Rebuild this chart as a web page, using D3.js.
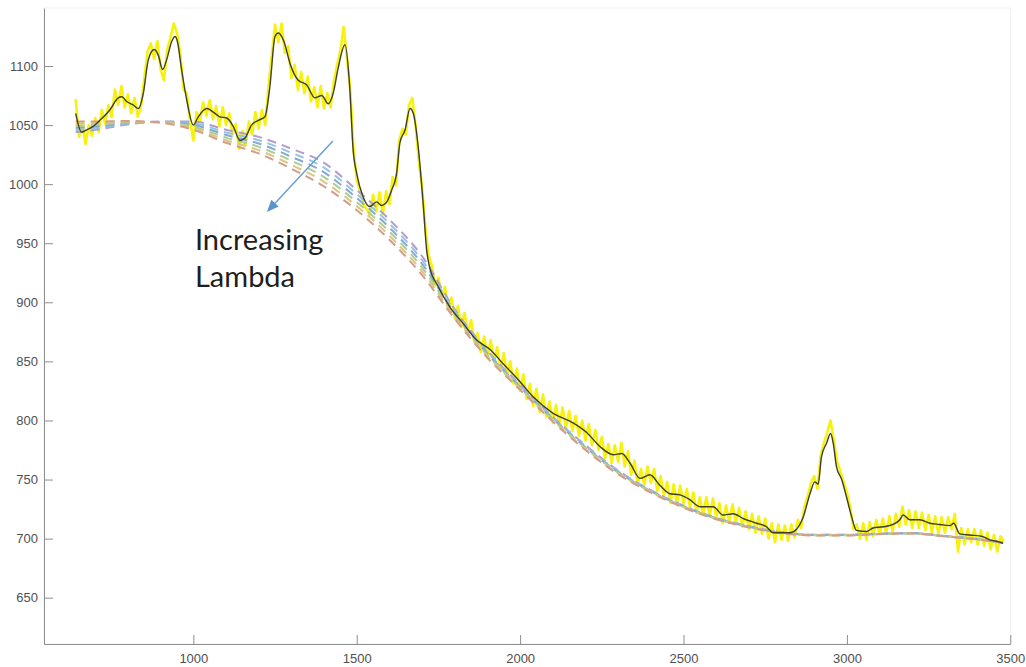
<!DOCTYPE html>
<html>
<head>
<meta charset="utf-8">
<script src="https://cdn.jsdelivr.net/npm/d3@7"></script>
<style>
  html, body { margin: 0; padding: 0; background: #fff; }
  svg { display: block; }
  .axis text { font-family: "Liberation Sans", Arial, sans-serif; font-size: 13px; fill: #4f4f4f; }
  .axis path, .axis line { stroke: #8f8f8f; stroke-width: 1; }
</style>
</head>
<body>
<svg id="chart" width="1026" height="667"></svg>
<script>
// Raw spectrum, sampled every 10 units starting at 640
const rawStart = 640;
const rawStep = 10;
const rawY = [
  1072,1040,1052,1034,1050,1041,1056,1044,1063,1051,
  1067,1057,1080,1067,1083,1065,1076,1060,1073,1057,
  1066,1090,1112,1119,1106,1121,1097,1088,1114,1124,
  1136,1128,1111,1080,1077,1054,1037,1061,1053,1069,
  1058,1071,1055,1066,1049,1065,1050,1060,1042,1051,
  1030,1045,1033,1053,1042,1061,1047,1063,1050,1083,
  1109,1135,1120,1136,1111,1117,1090,1101,1080,1095,
  1077,1091,1070,1082,1065,1083,1064,1077,1065,1087,
  1101,1113,1133,1107,1081,1031,1003,995,983,979,
  974,991,977,993,975,994,983,1006,999,1037,
  1047,1042,1067,1073,1050,1019,998,963,940,931,
  914,921,904,913,895,904,886,897,879,891,
  875,885,866,874,858,871,853,868,850,862,
  842,857,838,850,831,844,825,839,818,831,
  812,827,807,822,803,816,798,813,796,811,
  793,808,791,804,787,800,783,797,779,792,
  775,786,768,780,764,779,765,781,761,774,
  754,766,746,759,745,761,747,759,740,753,
  736,748,730,746,729,745,729,742,726,739,
  722,735,720,735,719,734,718,730,713,728,
  714,729,713,726,710,723,708,721,705,719,
  704,717,700,713,697,712,699,711,698,712,
  701,716,709,727,736,747,753,742,771,781,
  790,800,783,765,757,748,739,727,708,712,
  700,713,699,714,702,716,704,717,704,719,
  706,721,710,727,712,724,709,723,709,722,
  707,720,705,719,704,718,705,718,708,721,
  689,709,695,708,697,708,695,707,694,705,
  691,703,689,702,698
];

// Smoothed spectrum
const smoothX = [
  640,658,674,694,714,745,770,781,796,816,
  832,847,862,880,893,906,918,934,944,951,
  964,980,1000,1015,1041,1061,1081,1102,1122,1143,
  1158,1178,1199,1219,1234,1250,1260,1277,1296,1321,
  1347,1372,1393,1413,1428,1443,1464,1479,1489,1500,
  1520,1540,1561,1576,1592,1607,1622,1632,1648,1663,
  1673,1688,1704,1714,1722,1750,1785,1826,1867,1908,
  1948,1999,2040,2101,2162,2203,2244,2285,2311,2336,
  2367,2397,2428,2458,2489,2519,2550,2591,2621,2652,
  2683,2724,2754,2774,2805,2825,2846,2866,2887,2902,
  2912,2922,2938,2950,2958,2968,2984,2999,3014,3029,
  3060,3080,3111,3141,3162,3172,3192,3223,3254,3284,
  3315,3327,3345,3376,3412,3437,3468,3478
];
const smoothY = [
  1060,1044,1046,1049,1054,1063,1073,1074,1070,1067,
  1064,1077,1105,1114,1109,1097,1105,1121,1125,1121,
  1097,1071,1050,1057,1064,1061,1057,1056,1049,1037,
  1039,1050,1054,1057,1082,1125,1128,1121,1102,1088,
  1084,1073,1075,1068,1077,1098,1118,1080,1029,1009,
  989,981,985,982,985,995,1009,1035,1046,1064,
  1060,1032,981,944,931,913,896,882,868,860,
  848,833,820,806,798,790,778,771,772,764,
  751,754,745,738,737,733,727,727,720,721,
  717,713,710,705,705,705,708,718,738,748,
  746,769,781,789,781,761,750,735,719,707,
  706,709,710,712,716,720,716,716,713,712,
  711,713,704,703,702,699,697,696
];

// Fitted baselines, one per lambda value
const baseX = [640,700,800,900,1000,1100,1200,1300,1400,1500,1600,1700,1800,1900,2000,
               2100,2200,2300,2400,2500,2600,2700,2800,2900,3000,3100,3200,3300,3400,3478];
const baseA = [1044,1046,1050.5,1053,1053,1046,1040,1030,1018,995,970,939,894,859,830,
               803,779,757.5,741,727.8,717.6,710.5,705.4,703.3,703.3,704.2,704.7,702.2,699.7,696.7];
const baseB = [1045.8,1047.4,1051.1,1052.8,1051.6,1043.8,1037.2,1026.6,1014,991.6,966.6,935.8,892.4,857.8,829.2,
               802.2,778.2,756.9,740.6,727.5,717.4,710.3,705.2,703.2,703.2,704.1,704.6,702.1,699.6,696.6];
const baseC = [1047.6,1048.8,1051.7,1052.6,1050.2,1041.6,1034.4,1023.2,1010,988.2,963.2,932.6,890.8,856.6,828.4,
               801.4,777.4,756.3,740.2,727.2,717.1,710.1,705.1,703.1,703.1,704,704.5,702,699.5,696.5];
const baseD = [1049.4,1050.2,1052.3,1052.4,1048.8,1039.4,1031.6,1019.8,1006,984.8,959.8,929.4,889.2,855.4,827.6,
               800.6,776.6,755.7,739.8,726.8,716.9,709.9,704.9,702.9,702.9,704,704.5,702,699.5,696.5];
const baseE = [1051.2,1051.6,1052.9,1052.2,1047.4,1037.2,1028.8,1016.4,1002,981.4,956.4,926.2,887.6,854.2,826.8,
               799.8,775.8,755.1,739.4,726.5,716.6,709.7,704.8,702.8,702.8,703.9,704.4,701.9,699.4,696.4];
const baseF = [1053,1053,1053.5,1052,1046,1035,1026,1013,998,978,953,923,886,853,826,
               799,775,754.5,739,726.2,716.4,709.5,704.6,702.7,702.7,703.8,704.3,701.8,699.3,696.3];
const baseColors = ["#b49ccb", "#92c6e4", "#86a8d3", "#abce92", "#dcc483", "#d29d89"];

const xTicks = [1000, 1500, 2000, 2500, 3000, 3500];
const yTicks = [650, 700, 750, 800, 850, 900, 950, 1000, 1050, 1100];

// Annotation: label lines and arrow (data units)
const noteLines = ["Increasing", "Lambda"];
const noteX = 1005;
const noteY = [944, 913];
const arrowFrom = [1427, 1036.5];
const arrowTo = [1225, 976.5];

const svg = d3.select("#chart");
const x = d3.scaleLinear().domain([543, 3500]).range([44, 1010.3]);
const y = d3.scaleLinear().domain([610.8, 1149.1]).range([644, 8]);

// faint outer frame
svg.append("rect")
  .attr("x", x.range()[0]).attr("y", y.range()[1])
  .attr("width", x.range()[1] - x.range()[0])
  .attr("height", y.range()[0] - y.range()[1])
  .attr("fill", "none").attr("stroke", "#f0f0f0");

const rawPts = rawY.map((v, i) => [rawStart + i * rawStep, v]);
svg.append("path")
  .datum(rawPts)
  .attr("fill", "none")
  .attr("stroke", "#f7f20c")
  .attr("stroke-width", 2.6)
  .attr("stroke-linejoin", "round")
  .attr("d", d3.line().x(d => x(d[0])).y(d => y(d[1])));

const baseSeries = [baseA, baseB, baseC, baseD, baseE, baseF];
const baseLine = d3.line().curve(d3.curveMonotoneX).x(d => x(d[0])).y(d => y(d[1]));
baseSeries.forEach((s, k) => {
  svg.append("path")
    .datum(s.map((v, i) => [baseX[i], v]))
    .attr("fill", "none")
    .attr("stroke", baseColors[k])
    .attr("stroke-width", 2)
    .attr("stroke-dasharray", "9,6")
    .attr("d", baseLine);
});

svg.append("path")
  .datum(smoothX.map((v, i) => [v, smoothY[i]]))
  .attr("fill", "none")
  .attr("stroke", "#3e3e24")
  .attr("stroke-width", 1.4)
  .attr("d", d3.line().curve(d3.curveMonotoneX).x(d => x(d[0])).y(d => y(d[1])));

// axes with inward ticks
const fmt = d3.format("d");
svg.append("g").attr("class", "axis")
  .attr("transform", `translate(${x.range()[0]},0)`)
  .call(d3.axisLeft(y).tickValues(yTicks).tickFormat(fmt).tickSize(-9).tickSizeOuter(0).tickPadding(6));
svg.append("g").attr("class", "axis")
  .attr("transform", `translate(0,${y.range()[0]})`)
  .call(d3.axisBottom(x).tickValues(xTicks).tickFormat(fmt).tickSize(-9).tickSizeOuter(0).tickPadding(9.5));

// arrow
const ax1 = x(arrowFrom[0]), ay1 = y(arrowFrom[1]);
const ax2 = x(arrowTo[0]), ay2 = y(arrowTo[1]);
const ang = Math.atan2(ay2 - ay1, ax2 - ax1);
const headLen = 12, headW = 5;
const bx = ax2 - headLen * Math.cos(ang), by = ay2 - headLen * Math.sin(ang);
svg.append("line")
  .attr("x1", ax1).attr("y1", ay1).attr("x2", bx).attr("y2", by)
  .attr("stroke", "#6a9fd3").attr("stroke-width", 1.5);
svg.append("path")
  .attr("d", `M${ax2},${ay2} L${bx + headW * Math.sin(ang)},${by - headW * Math.cos(ang)} L${bx - headW * Math.sin(ang)},${by + headW * Math.cos(ang)} Z`)
  .attr("fill", "#5b93cf");

noteLines.forEach((t, i) => {
  svg.append("text")
    .attr("x", x(noteX)).attr("y", y(noteY[i]))
    .attr("font-family", "Lato, 'Open Sans', sans-serif")
    .attr("font-size", 29)
    .attr("fill", "#1e1e1e")
    .text(t);
});
</script>
</body>
</html>
